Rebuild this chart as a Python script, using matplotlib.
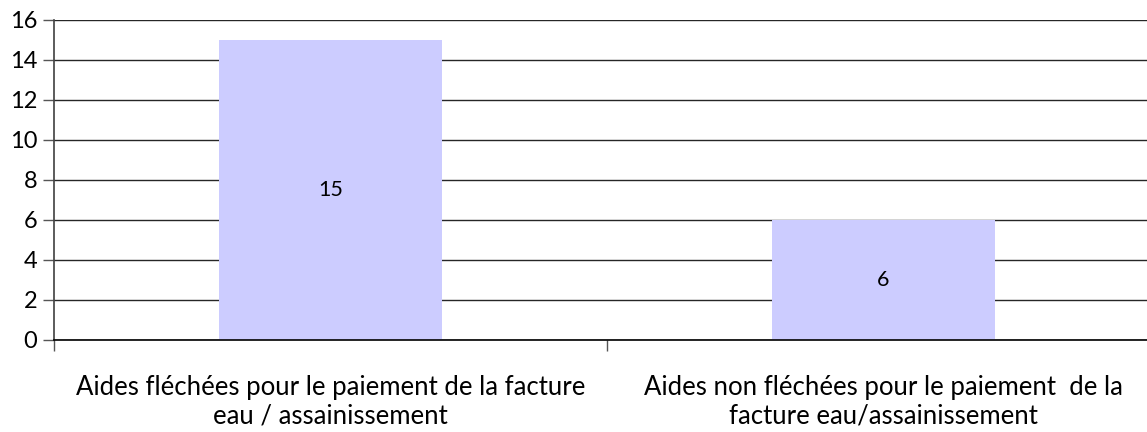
import matplotlib
matplotlib.use("Agg")
import matplotlib.pyplot as plt

categories = ["Aides fléchées pour le paiement de la facture\neau / assainissement",
              "Aides non fléchées pour le paiement  de la\nfacture eau/assainissement"]
values = [15, 6]
yticks = [0, 2, 4, 6, 8, 10, 12, 14, 16]

plt.rcParams['font.family'] = ['Lato', 'DejaVu Sans']

W, H = 1147, 432
fig = plt.figure(figsize=(W / 100, H / 100), dpi=100)
x0, x1 = 54, 1160
ytop, ybot = 19.5, 339.5
ax = fig.add_axes([x0 / W, (H - ybot) / H, (x1 - x0) / W, (ybot - ytop) / H])

pos = list(range(len(categories)))
ax.bar(pos, values, width=0.403, color="#CCCCFF", zorder=2)
for p, v in zip(pos, values):
    ax.text(p, v / 2, str(v), ha="center", va="center", fontsize=15.5, color="black", zorder=3)

ax.set_xlim(-0.5, len(categories) - 0.5)
ax.set_ylim(0, 16)
ax.set_yticks(yticks)
ax.set_yticklabels([str(t) for t in yticks], fontsize=17)
ax.yaxis.grid(True, color="#262626", linewidth=1.0, zorder=0)
ax.set_axisbelow(True)

ax.set_xticks([-0.5, 0.5, 1.5])
ax.set_xticklabels([])
ax.tick_params(axis="x", direction="out", length=8, width=1, color="#555555")
ax.tick_params(axis="y", direction="out", length=8, width=1, color="#555555", pad=4)
for p, c in zip(pos, categories):
    ax.text(p, -1.75, c, ha="center", va="top", fontsize=18.5, linespacing=1.2,
            transform=ax.transData)

for s in ["top", "right"]:
    ax.spines[s].set_visible(False)
ax.spines["left"].set_color("#404040")
ax.spines["left"].set_linewidth(1.2)
ax.spines["bottom"].set_color("black")
ax.spines["bottom"].set_linewidth(1.2)

fig.savefig("out.png", dpi=100)
